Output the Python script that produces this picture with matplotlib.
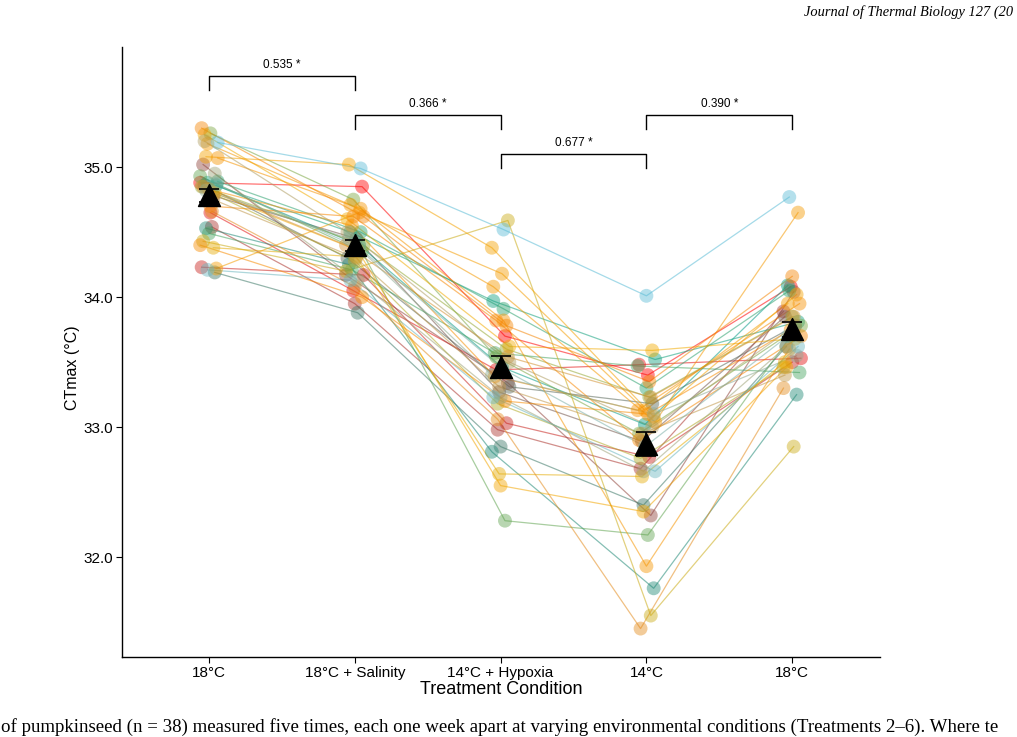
import numpy as np
import matplotlib
matplotlib.use("Agg")
import matplotlib.pyplot as plt
from matplotlib.colors import to_rgb, to_hex

# ---------------- data ----------------
conditions = ["18°C", "18°C + Salinity", "14°C + Hypoxia", "14°C", "18°C"]

t1_18 = [34.88, 34.65, 34.23, 34.54, 35.02, 34.78, 34.86, 34.19, 34.53, 34.86,
         34.88, 34.89, 34.49, 34.93, 35.26, 34.85, 34.80, 34.43, 34.38, 35.25,
         34.80, 35.08, 34.22, 35.18, 35.07, 34.83, 34.40, 34.70, 35.30, 34.66,
         34.85, 34.75, 35.20, 34.95, 34.82, 34.87, 34.21, 35.19]
t2_salinity = [34.85, 34.05, 34.17, 33.95, 34.17, 34.45, 34.30, 33.88, 34.25, 34.40,
               34.50, 34.50, 34.21, 34.35, 34.75, 34.40, 34.28, 34.20, 34.31, 34.60,
               34.36, 35.02, 34.65, 34.71, 34.68, 34.55, 34.00, 34.62, 34.62, 34.08,
               34.40, 34.30, 34.50, 34.13, 34.45, 34.38, 34.13, 34.99]
t3_hypoxia = [33.70, 33.44, 33.03, 32.98, 33.34, 33.27, 33.31, 32.85, 32.81, 33.46,
              33.97, 33.91, 33.57, 32.28, 33.54, 33.60, 33.18, 34.59, 32.64, 33.62,
              32.55, 34.38, 34.18, 34.08, 33.82, 33.39, 33.20, 33.82, 33.78, 33.06,
              33.54, 33.31, 33.50, 33.23, 33.40, 33.45, 33.23, 34.52]
t4_14 = [33.40, 33.48, 32.77, 32.68, 32.32, 32.89, 33.18, 32.40, 31.76, 33.02,
         33.52, 33.30, 33.47, 32.17, 32.95, 33.23, 32.76, 31.55, 32.62, 33.59,
         32.35, 33.08, 33.13, 33.04, 31.93, 33.13, 33.10, 32.90, 33.35, 31.45,
         33.23, 32.95, 33.00, 32.66, 33.10, 32.85, 32.66, 34.01]
t5_18 = [34.08, 33.53, 33.50, 33.89, 34.04, 33.85, 33.78, 33.62, 33.25, 34.09,
         33.81, 34.05, 33.42, 33.70, 33.78, 33.85, 33.46, 32.85, 33.50, 33.68,
         33.46, 34.02, 33.95, 34.65, 33.60, 33.95, 33.75, 33.70, 34.16, 33.30,
         33.85, 33.40, 33.78, 33.62, 33.55, 33.70, 33.62, 34.77]

bracket_pairs = [(1, 2), (2, 3), (3, 4), (4, 5)]
bracket_labels = ["0.535 *", "0.366 *", "0.677 *", "0.390 *"]
bracket_heights = [35.70, 35.40, 35.10, 35.40]

base_palette = ["#FF0000", "#00A08A", "#F2AD00", "#F98400", "#5BBCD6"]

header_text = "Journal of Thermal Biology 127 (20"
caption_text = ("of pumpkinseed (n = 38) measured five times, each one week apart at "
                "varying environmental conditions (Treatments 2–6). Where te")

# ---------------- prep ----------------
data = np.array([t1_18, t2_salinity, t3_hypoxia, t4_14, t5_18]).T  # fish x condition
n_fish, n_cond = data.shape

def ramp(cols, n):
    rgb = np.array([to_rgb(c) for c in cols])
    pos = np.linspace(0, len(cols) - 1, n)
    out = []
    for p in pos:
        k = min(int(np.floor(p)), len(cols) - 2)
        f = p - k
        out.append(to_hex(rgb[k] * (1 - f) + rgb[k + 1] * f))
    return out

colors = ramp(base_palette, n_fish)
xs = np.arange(1, n_cond + 1)

plt.rcParams['font.family'] = ['Liberation Sans', 'DejaVu Sans']
fig = plt.figure(figsize=(10.17, 7.37), dpi=100)
ax = fig.add_axes([0.120, 0.1085, 0.745, 0.8275])

for i in range(n_fish):
    offs = np.array([(((i * 7 + j * 11) % 13) - 6) / 6 * 0.06 for j in range(n_cond)])
    xi = xs + offs
    ax.plot(xi, data[i], color=colors[i], lw=0.9, alpha=0.55, zorder=2)
    ax.scatter(xi, data[i], s=100, color=colors[i], alpha=0.45, edgecolors='none', zorder=3)

means = data.mean(axis=0)
se = data.std(axis=0, ddof=1) / np.sqrt(n_fish)
ax.errorbar(xs, means, yerr=se, fmt='none', ecolor='black', elinewidth=1.2,
            capsize=7, capthick=1.2, zorder=5)
ax.scatter(xs, means, marker='^', s=250, color='black', zorder=6)

for (a, b), lab, h in zip(bracket_pairs, bracket_labels, bracket_heights):
    ax.plot([a, a, b, b], [h - 0.11, h, h, h - 0.11], color='black', lw=1.0,
            zorder=4, clip_on=False)
    ax.text((a + b) / 2, h + 0.04, lab, ha='center', va='bottom', fontsize=8.5)

ax.set_xlim(0.404, 5.60)
ax.set_ylim(31.231, 35.923)
ax.set_xticks(xs)
ax.set_xticklabels(conditions, fontsize=11)
ax.set_yticks([32.0, 33.0, 34.0, 35.0])
ax.set_yticklabels(["32.0", "33.0", "34.0", "35.0"], fontsize=11)
ax.tick_params(axis='both', colors='black', length=4, width=0.8, pad=2.5)
for s in ['top', 'right']:
    ax.spines[s].set_visible(False)
for s in ['left', 'bottom']:
    ax.spines[s].set_linewidth(1.0)
ax.set_xlabel("Treatment Condition", fontsize=13, labelpad=1)
ax.set_ylabel("CTmax (°C)", fontsize=11.5)
ax.yaxis.set_label_coords(-0.056, 0.475)

fig.text(1013 / 1017, 1 - 12 / 737, header_text,
         ha='right', va='center', fontsize=10.4, style='italic',
         family=['Liberation Serif', 'DejaVu Serif'])
fig.text(1 / 1017, 1 - 727 / 737, caption_text,
         ha='left', va='center', fontsize=13.6,
         family=['Liberation Serif', 'DejaVu Serif'])

fig.savefig("out.png", dpi=100)
